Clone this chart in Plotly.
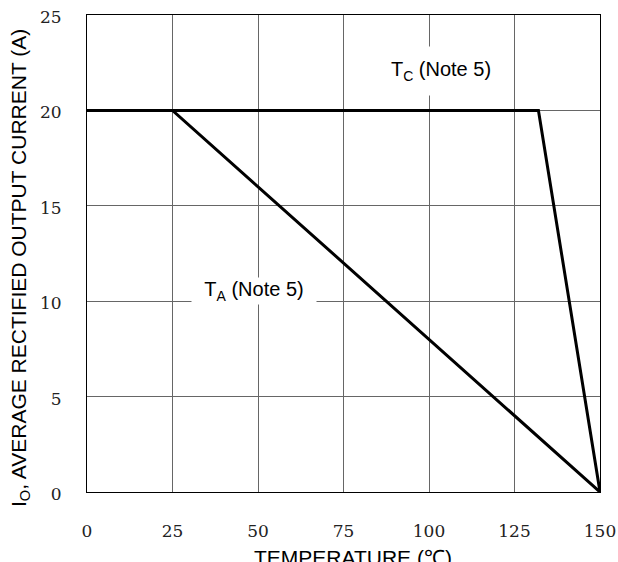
import plotly.graph_objects as go

# Data
tc_temp = [0, 132, 150]
tc_current = [20, 20, 0]
ta_temp = [0, 25, 150]
ta_current = [20, 20, 0]
x_ticks = [0, 25, 50, 75, 100, 125, 150]
y_ticks = [0, 5, 10, 15, 20, 25]

W, H = 618, 562
ml, mr, mt, mb = 87, 18, 15, 70
pw, ph = W - ml - mr, H - mt - mb

fig = go.Figure()
fig.add_trace(go.Scatter(x=ta_temp, y=ta_current, mode="lines",
                         line=dict(color="black", width=3), cliponaxis=False,
                         showlegend=False, hoverinfo="skip"))
fig.add_trace(go.Scatter(x=tc_temp, y=tc_current, mode="lines",
                         line=dict(color="black", width=3), cliponaxis=False,
                         showlegend=False, hoverinfo="skip"))

tick_font = dict(family="DejaVu Serif", size=17, color="#222")
fig.update_xaxes(range=[0, 150], tickvals=x_ticks, ticktext=[str(v) for v in x_ticks],
                 showgrid=True, gridcolor="#666", gridwidth=1, automargin=False,
                 showline=True, linecolor="black", linewidth=1, mirror=True,
                 ticks="", zeroline=False, tickfont=tick_font, ticklabelstandoff=24,
                 ticklabeloverflow="allow")
fig.update_yaxes(range=[0, 25], tickvals=y_ticks, ticktext=[str(v) for v in y_ticks],
                 showgrid=True, gridcolor="#666", gridwidth=1, automargin=False,
                 showline=True, linecolor="black", linewidth=1, mirror=True,
                 ticks="", zeroline=False, tickfont=tick_font, ticklabelstandoff=21,
                 ticklabelshift=2, ticklabeloverflow="allow")

lab_font = dict(family="Liberation Sans, Arial", size=20, color="black")
title_font = dict(family="Liberation Sans, Arial", size=21, color="black")
fig.add_annotation(x=103.5, y=22.06, xref="x", yref="y",
                   text="T<sub>C</sub> (Note 5)", showarrow=False, font=lab_font,
                   bgcolor="white", width=124, height=48, borderpad=0)
fig.add_annotation(x=48.8, y=10.53, xref="x", yref="y",
                   text="T<sub>A</sub> (Note 5)", showarrow=False, font=lab_font,
                   bgcolor="white", width=124, height=26, borderpad=0)

# Axis titles
fig.add_annotation(x=0, y=(492 - 268) / ph, xref="paper", yref="paper",
                   xanchor="center", yanchor="middle", xshift=20 - 87,
                   text="I<sub>O</sub>, AVERAGE RECTIFIED OUTPUT CURRENT (A)",
                   textangle=-90, showarrow=False, font=title_font)
fig.add_annotation(x=(353 - 87) / pw, y=(492 - 544) / ph, xref="paper", yref="paper",
                   xanchor="center", yanchor="top",
                   text="TEMPERATURE (℃)", showarrow=False, font=title_font)

fig.update_layout(width=W, height=H, margin=dict(l=ml, r=mr, t=mt, b=mb),
                  plot_bgcolor="white", paper_bgcolor="white", showlegend=False)

fig.write_html("out.html", config={"displayModeBar": False},
               post_script="document.body.style.margin='0';"
                           "document.documentElement.style.overflow='hidden';")
